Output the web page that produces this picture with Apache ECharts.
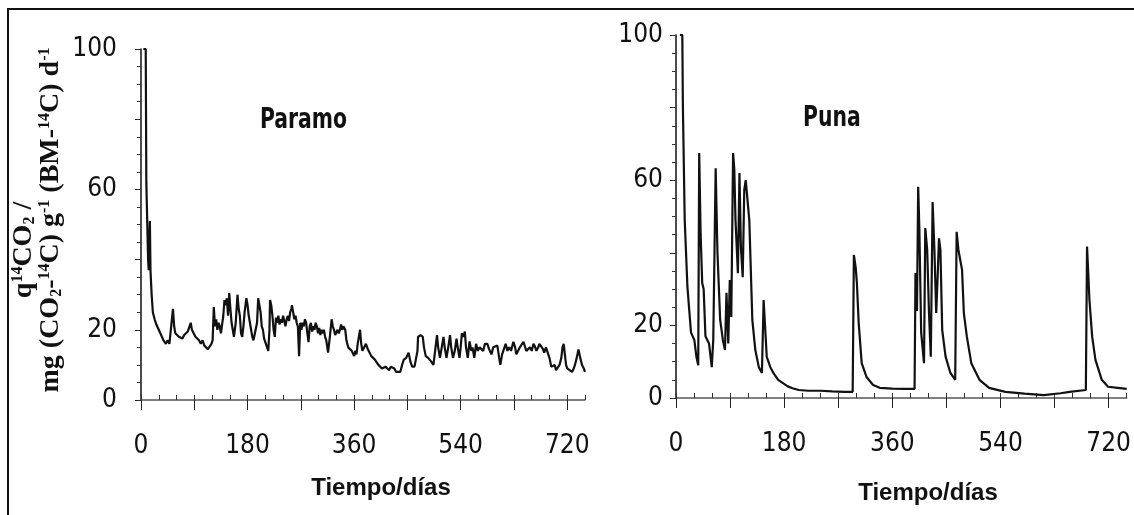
<html>
<head>
<meta http-equiv="Content-Type" content="text/html; charset=utf-8" />
<script src="https://cdn.jsdelivr.net/npm/echarts@6/dist/echarts.min.js"></script>
<style>
  body { margin: 0; background: #fff; }
</style>
</head>
<body>
<div id="main" style="width:1134px;height:515px;"></div>
<script type="text/javascript">
// valores (dias, q14CO2)
var paramoDays = [4, 8, 9, 12, 13, 15, 16, 18, 20, 23, 26, 30, 34, 38, 42, 45, 48, 51, 54, 56, 58, 61, 64, 67, 70, 73, 76, 79, 82, 84, 86, 89, 92, 95,
  98, 101, 104, 107, 110, 113, 116, 119, 121, 123, 125, 127, 129, 131, 133, 135, 137, 139, 141, 143, 145, 147, 149, 151, 153, 155, 157, 160,
  163, 165, 167, 169, 171, 173, 175, 178, 180, 182, 184, 186, 188, 190, 193, 196, 198, 200, 202, 204, 206, 208, 211, 213, 215, 217, 218, 220,
  222, 224, 226, 228, 230, 232, 234, 236, 238, 240, 242, 244, 246, 248, 250, 252, 254, 255, 257, 259, 261, 263, 265, 267, 269, 271, 273, 275,
  277, 279, 281, 283, 285, 287, 289, 291, 293, 295, 297, 299, 301, 303, 305, 307, 309, 311, 313, 316, 319, 322, 324, 326, 328, 330, 332, 334,
  336, 338, 340, 342, 345, 347, 350, 353, 356, 358, 360, 362, 364, 366, 368, 370, 372, 374, 377, 380, 383, 386, 389, 392, 395, 398, 401, 404,
  407, 410, 413, 416, 419, 422, 425, 428, 431, 434, 438, 441, 444, 448, 452, 455, 458, 462, 465, 467, 468, 472, 476, 478, 481, 485, 490, 494,
  497, 500, 502, 505, 508, 511, 513, 516, 519, 522, 524, 527, 530, 533, 535, 538, 540, 542, 545, 547, 549, 552, 555, 558, 560, 563, 566, 569,
  572, 575, 578, 581, 585, 588, 592, 595, 598, 602, 605, 607, 610, 613, 616, 619, 622, 625, 629, 632, 634, 637, 640, 643, 646, 649, 651, 654,
  657, 660, 663, 665, 668, 671, 673, 676, 679, 681, 684, 687, 690, 693, 696, 699, 701, 704, 707, 710, 712, 714, 716, 718, 720, 724, 728, 731,
  733, 736, 739, 742, 745, 748, 750];
var paramoValues = [100, 100, 62, 40, 37, 51, 37, 30, 25, 23, 21.5, 20, 18.5, 17, 16, 17, 16, 16.5, 26, 21, 19, 19.5, 18, 18.5, 17.5, 18.5, 18, 19.5, 20, 22, 20, 19, 18, 17.5,
  17, 16, 17, 15.5, 16, 14.5, 14, 16, 17, 26.5, 21, 23, 20, 22, 21, 19, 18.5, 24, 28.5, 27, 29, 24, 30.5, 26, 22, 20, 18, 22,
  30, 26, 24, 19, 18, 21, 25, 29, 27, 24, 22, 20, 18, 17, 16.5, 22, 29, 27, 25, 21, 20, 17.5, 16, 15, 14, 20, 28.5, 27,
  24, 20, 18, 23.5, 22, 24, 21.5, 23, 22, 24, 22.5, 21, 23, 24, 22.5, 25, 26, 27, 25, 23, 24, 22, 21, 12.5, 22, 20, 22, 21,
  23, 22, 19, 16.5, 21, 22, 19.5, 21, 20, 22, 21, 19, 20.5, 18.5, 20, 19, 20, 18, 17, 13.5, 18, 23, 21, 20, 18.5, 18, 20, 19,
  20, 21.5, 20, 21, 20, 17, 15, 15.5, 14, 13.5, 12.5, 14, 13, 16, 18, 20, 16, 14, 15, 16, 14.5, 13.5, 12.5, 12, 11.5, 11, 10, 10.5,
  9, 8.5, 9.5, 9.5, 8.5, 9.5, 9, 9, 8, 8.5, 8, 10, 11.5, 12, 13.5, 11, 9.5, 9.5, 10, 14, 18, 18.5, 18, 15, 12.5, 12, 11, 10,
  9.5, 18.5, 15, 12, 15, 18, 15, 12, 15, 18.5, 15, 12, 14, 17.5, 15, 12, 15, 19, 18, 19.5, 15, 12, 16.7, 14, 15, 12, 16, 14,
  15, 15.5, 14, 16, 16, 14.5, 13, 15, 14.5, 15.5, 12, 10, 13, 14.5, 16, 14, 15, 14, 16.6, 15, 13, 12.5, 15, 14.5, 16.6, 15, 14, 13.5,
  15, 14, 16, 15.4, 14, 15, 16, 16, 14.5, 13.5, 15, 14.5, 12, 9.5, 9, 10, 8.5, 9, 10, 12, 15, 16, 13, 10, 9, 8.5, 8, 9,
  10, 12, 14.4, 12, 10, 9, 8];

var punaDays = [6.5, 10.5, 11.5, 14.5, 19, 25, 30.5, 34, 37, 38.6, 41, 43.6, 46, 49, 55, 59.5, 62, 66, 69, 73.5, 78, 81.5, 84, 87, 89.5, 92, 95, 97, 99,
  103, 105.6, 108, 111, 113.6, 116, 119, 122, 127, 132, 137.8, 143, 145.8, 151, 157, 162, 170, 178, 186, 194, 204, 220, 240, 260, 280, 294,
  296, 299, 301, 304, 309, 317, 328, 339, 360, 380, 392, 397, 398.5, 401, 403, 405, 408, 412.7, 414.8, 418, 421, 424, 427, 430, 433, 435,
  437.6, 440, 443, 448.6, 456.6, 464.6, 467, 470, 473, 476, 479, 484, 491.4, 505, 521, 548, 580, 612, 640, 655, 682, 684, 688, 692.5,
  698, 708.5, 719, 735, 750];
var punaValues = [100, 100, 80, 49, 30.6, 18, 16, 11.3, 9, 67.5, 45, 31.7, 30, 17, 15, 8.5, 16, 63.3, 40, 21.5, 16, 13.2, 29, 15, 32.5, 22.3, 67.5, 63, 49,
  34.4, 62, 41.6, 33.3, 57.3, 60, 60, 49, 21.5, 13.2, 8.5, 6.9, 27, 11.3, 8.5, 6.9, 5, 4.1, 3.2, 2.7, 2.2, 2, 2, 1.8, 1.7, 1.7,
  39.4, 36, 31.7, 20.7, 9.6, 5.8, 3.6, 2.8, 2.6, 2.5, 2.5, 2.5, 34.4, 24, 58.2, 46.3, 18, 9.6, 46.8, 40.8, 23.4, 11.4, 54, 40.8, 23.4, 31.7,
  44, 40.8, 18.7, 11.4, 6.9, 5, 45.8, 40.8, 38, 35.3, 23.4, 16.9, 9.6, 5, 2.8, 1.7, 1.2, 0.8, 1.3, 1.7, 2.2, 41.7, 27, 16.9,
  10.5, 5, 3.1, 2.8, 2.5];

var xLabels = [0, 180, 360, 540, 720];
var yLabels = [0, 20, 60, 100];

function zip(a, b) {
  var out = [];
  for (var i = 0; i < a.length; i++) out.push([a[i], b[i]]);
  return out;
}

var tickFont = { fontFamily: "'Liberation Sans Narrow', 'DejaVu Sans Condensed', sans-serif", fontSize: 26, color: '#111' };

function xAxes(g) {
  return [{
    gridIndex: g, type: 'value', min: 0, max: 750, interval: 90, position: 'bottom',
    axisLine: { lineStyle: { color: '#555', width: 1.5 } },
    axisTick: { length: 10, lineStyle: { color: '#222' } },
    axisLabel: Object.assign({ margin: 33, showMaxLabel: false,
      formatter: function (v) { return xLabels.indexOf(v) >= 0 ? v : ''; } }, tickFont),
    splitLine: { show: false }
  }, {
    gridIndex: g, type: 'value', min: 0, max: 750, interval: 30, position: 'bottom',
    axisLine: { show: false },
    axisTick: { inside: true, length: 5, lineStyle: { color: '#333' } },
    axisLabel: { show: false },
    splitLine: { show: false }
  }];
}

function yAxes(g, margin) {
  return [{
    gridIndex: g, type: 'value', min: 0, max: 100, interval: 20,
    axisLine: { lineStyle: { color: '#111', width: 1.5 } },
    axisTick: { length: 6, lineStyle: { color: '#111' } },
    axisLabel: Object.assign({ margin: margin,
      formatter: function (v) { return yLabels.indexOf(v) >= 0 ? v : ''; } }, tickFont),
    splitLine: { show: false }
  }, {
    gridIndex: g, type: 'value', min: 0, max: 100, interval: 5,
    axisLine: { show: false },
    axisTick: { inside: true, length: 4, lineStyle: { color: '#333' } },
    axisLabel: { show: false },
    splitLine: { show: false }
  }];
}

var titleFont = "bold 24px 'Liberation Sans', Arial, sans-serif";
var panelFont = "bold 29px 'Liberation Sans Narrow', 'DejaVu Sans Condensed', sans-serif";
var serif = "'Liberation Serif', 'Times New Roman', serif";
var richTitle = {
  b: { fontFamily: serif, fontWeight: 'bold', fontSize: 28 },
  sup: { fontFamily: serif, fontWeight: 'bold', fontSize: 16, verticalAlign: 'top' },
  sub: { fontFamily: serif, fontWeight: 'bold', fontSize: 16, verticalAlign: 'bottom' }
};

var chart = echarts.init(document.getElementById('main'), null, { renderer: 'canvas' });
chart.setOption({
  animation: false,
  backgroundColor: '#fff',
  grid: [
    { left: 141, top: 49, width: 444, height: 351 },
    { left: 676, top: 35, width: 467, height: 363 }
  ],
  xAxis: xAxes(0).concat(xAxes(1)),
  yAxis: yAxes(0, 24).concat(yAxes(1, 13)),
  series: [{
    name: 'Paramo', type: 'line', xAxisIndex: 0, yAxisIndex: 0,
    data: zip(paramoDays, paramoValues), showSymbol: false,
    lineStyle: { color: '#111', width: 2.2 }
  }, {
    name: 'Puna', type: 'line', xAxisIndex: 2, yAxisIndex: 2,
    data: zip(punaDays, punaValues), showSymbol: false,
    lineStyle: { color: '#111', width: 2.2 }
  }],
  graphic: [
    { type: 'polyline', shape: { points: [[8, 515], [8, 9], [1134, 9]] },
      style: { stroke: '#111', lineWidth: 2, fill: null } },
    { type: 'text', x: 260, y: 120, scaleX: 0.78, style: { text: 'Paramo', font: panelFont, fill: '#111', textVerticalAlign: 'middle' } },
    { type: 'text', x: 803, y: 118, scaleX: 0.78, style: { text: 'Puna', font: panelFont, fill: '#111', textVerticalAlign: 'middle' } },
    { type: 'text', x: 381, y: 488, style: { text: 'Tiempo/días', font: titleFont, fill: '#111', textAlign: 'center', textVerticalAlign: 'middle' } },
    { type: 'text', x: 928, y: 493, style: { text: 'Tiempo/días', font: titleFont, fill: '#111', textAlign: 'center', textVerticalAlign: 'middle' } },
    { type: 'text', x: 24, y: 250, rotation: Math.PI / 2,
      style: { text: '{b|q}{sup|14}{b|CO}{sub|2}{b| /}', textAlign: 'center', textVerticalAlign: 'middle', fill: '#111', rich: richTitle } },
    { type: 'text', x: 51, y: 220, rotation: Math.PI / 2,
      style: { text: '{b|mg (CO}{sub|2}{b|-}{sup|14}{b|C) g}{sup|-1}{b| (BM-}{sup|14}{b|C) d}{sup|-1}',
        textAlign: 'center', textVerticalAlign: 'middle', fill: '#111', rich: richTitle } }
  ]
});
</script>
</body>
</html>
